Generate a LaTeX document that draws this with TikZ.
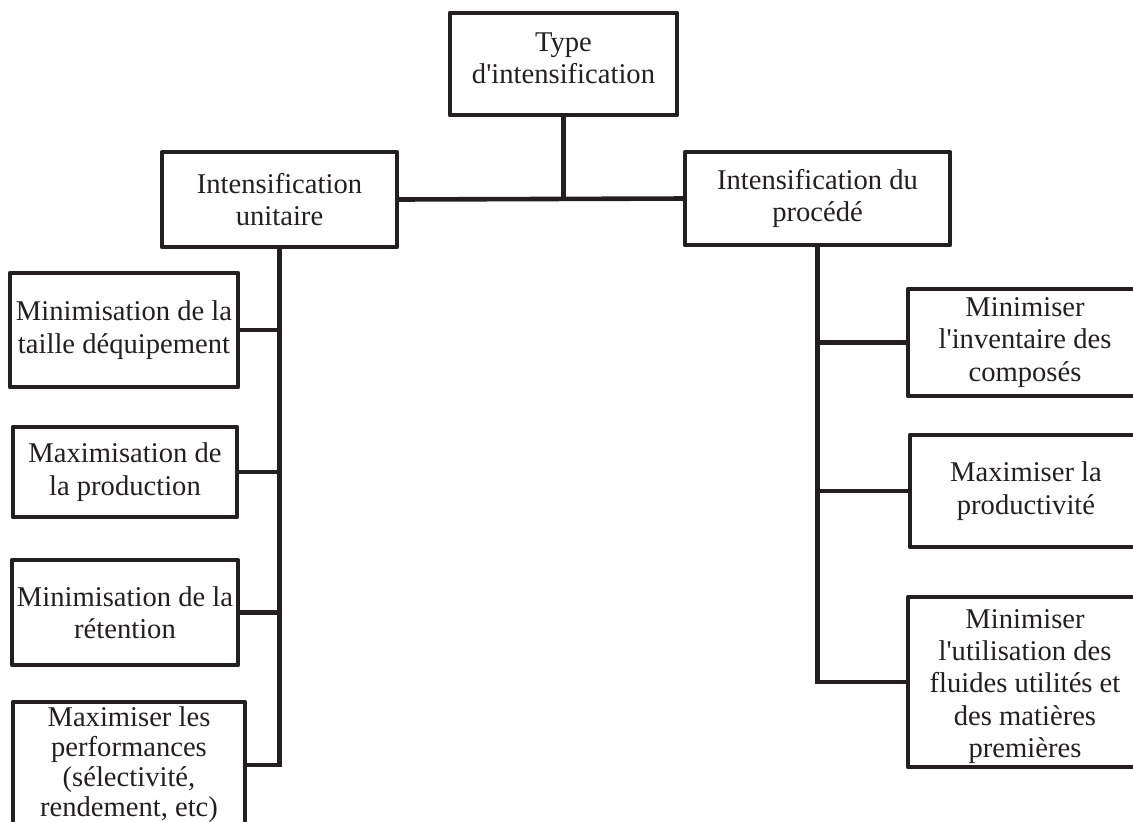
\documentclass[tikz,border=0pt]{standalone}
\usepackage{fontspec}
\setmainfont{Liberation Serif}[Ligatures=TeXOff]
\definecolor{ink}{HTML}{231F20}
\begin{document}
\begin{tikzpicture}[x=0.5pt,y=-0.5pt,
  box/.style={draw=ink,line width=2.4pt,line join=round,inner sep=0pt,outer sep=0pt,
    align=center,text=ink,font=\fontsize{14.3}{16.2}\selectfont},
  link/.style={draw=ink,line width=2.3pt,line join=miter}]
\useasboundingbox (0,0) rectangle (1133,821);
\node[box,minimum width=113.5pt,minimum height=51pt] (top) at (563.5,64) {Type\\d'intensification\rule[-6pt]{0pt}{0pt}};
\node[box,minimum width=117.5pt,minimum height=47.5pt] (lu) at (279.5,199.5) {Intensification\\unitaire};
\node[box,minimum width=132.5pt,minimum height=46.5pt] (lp) at (817.5,198.5) {Intensification du\\procédé};
\node[box,minimum width=114pt,minimum height=57pt] (l1) at (124,330) {Minimisation de la\\taille déquipement};
\node[box,minimum width=112pt,minimum height=45pt] (l2) at (125,472) {Maximisation de\\la production};
\node[box,minimum width=113pt,minimum height=52.5pt] (l3) at (125,612.5) {Minimisation de la\\rétention};
\node[box,minimum width=116pt,minimum height=63pt,font=\fontsize{14.3}{15}\selectfont] (l4) at (129,765) {Maximiser les\\performances\\(sélectivité,\\rendement, etc)\rule[-2pt]{0pt}{0pt}};
\node[box,minimum width=117pt,minimum height=53.5pt] (r1) at (1025,342.5) {Minimiser\\l'inventaire des\\composés};
\node[box,minimum width=116pt,minimum height=56pt] (r2) at (1026,491) {Maximiser la\\productivité};
\node[box,minimum width=117pt,minimum height=85pt] (r3) at (1025,682) {\rule{0pt}{14pt}Minimiser\\l'utilisation des\\fluides utilités et\\des matières\\premières};
\draw[link] (top.south) -- (top.south |- lu.east);
\draw[link] (lu.east) -- (lp.west);
\draw[link] (lu.south) |- (l4.east);
\draw[link] (l1.east) -- (l1.east -| lu.south);
\draw[link] (l2.east) -- (l2.east -| lu.south);
\draw[link] (l3.east) -- (l3.east -| lu.south);
\draw[link] (lp.south) |- (r3.west);
\draw[link] (r1.west) -- (r1.west -| lp.south);
\draw[link] (r2.west) -- (r2.west -| lp.south);
\end{tikzpicture}
\end{document}
